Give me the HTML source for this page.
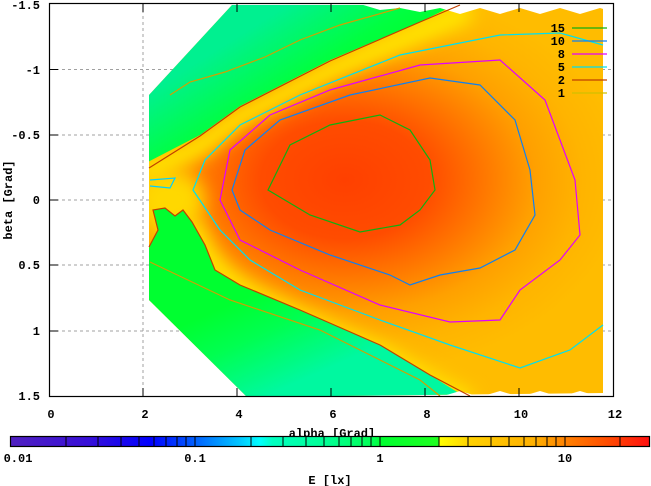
<!DOCTYPE html>
<html><head><style>
html,body{margin:0;padding:0;background:#fff;}
svg{display:block;}
text{font-family:"Liberation Mono",monospace;font-weight:bold;font-size:12px;fill:#000;}
</style></head><body>
<svg width="651" height="486" viewBox="0 0 651 486" xmlns="http://www.w3.org/2000/svg">
<defs>
<radialGradient id="core" cx="345" cy="180" r="280" gradientUnits="userSpaceOnUse" gradientTransform="translate(345 180) scale(1 0.7) translate(-345 -180)">
<stop offset="0" stop-color="#ff4000"/>
<stop offset="0.3" stop-color="#ff4c00"/>
<stop offset="0.5" stop-color="#ff7800"/>
<stop offset="0.68" stop-color="#ffa000"/>
<stop offset="0.85" stop-color="#ffb400"/>
<stop offset="1" stop-color="#ffbc00"/>
</radialGradient>
<linearGradient id="gtop" x1="200" y1="60" x2="250" y2="140" gradientUnits="userSpaceOnUse">
<stop offset="0" stop-color="#00f090"/><stop offset="0.7" stop-color="#00ff40"/><stop offset="1" stop-color="#00ff30"/>
</linearGradient>
<linearGradient id="gbot" x1="280" y1="390" x2="240" y2="300" gradientUnits="userSpaceOnUse">
<stop offset="0" stop-color="#00f8a0"/><stop offset="0.6" stop-color="#00ff50"/><stop offset="1" stop-color="#00ff30"/>
</linearGradient>
<linearGradient id="cb" x1="0" x2="1">
<stop offset="0" stop-color="#5020c0"/><stop offset="0.12" stop-color="#3810d8"/><stop offset="0.22" stop-color="#0000ff"/><stop offset="0.3" stop-color="#0070ff"/><stop offset="0.36" stop-color="#00c8ff"/><stop offset="0.39" stop-color="#00ffff"/><stop offset="0.41" stop-color="#00ffc0"/><stop offset="0.5" stop-color="#00ff90"/><stop offset="0.57" stop-color="#00ff50"/><stop offset="0.58" stop-color="#00ff30"/><stop offset="0.67" stop-color="#20ff20"/><stop offset="0.671" stop-color="#ffff00"/><stop offset="0.72" stop-color="#ffd000"/><stop offset="0.82" stop-color="#ffb000"/><stop offset="0.87" stop-color="#ff8000"/><stop offset="0.93" stop-color="#ff5000"/><stop offset="1" stop-color="#ff1010"/>
</linearGradient>
<filter id="blur" x="-50%" y="-50%" width="200%" height="200%"><feGaussianBlur stdDeviation="9"/></filter>
<clipPath id="dom"><path d="M149,95 L232,5 L603,5 L603,393 L247,397 L149,300 Z"/></clipPath>
</defs>
<!-- grid -->
<g stroke="#a0a0a0" stroke-dasharray="3,3" stroke-width="1">
<line x1="143" y1="4" x2="143" y2="396"/><line x1="237" y1="4" x2="237" y2="396"/><line x1="331" y1="4" x2="331" y2="396"/><line x1="425" y1="4" x2="425" y2="396"/><line x1="519" y1="4" x2="519" y2="396"/>
<line x1="50" y1="69.5" x2="613" y2="69.5"/><line x1="50" y1="135" x2="613" y2="135"/><line x1="50" y1="200" x2="613" y2="200"/><line x1="50" y1="265" x2="613" y2="265"/><line x1="50" y1="331" x2="613" y2="331"/>
</g>
<g clip-path="url(#dom)">
<rect x="140" y="0" width="470" height="400" fill="url(#core)"/>
<!-- soft yellow bands -->
<g filter="url(#blur)" fill="none" stroke="#ffe800" stroke-width="22">
<path d="M140,175 L200,146 L240,117 L330,71 L420,32 L470,10"/>
<path d="M160,220 L195,232 L205,255 L225,278 L250,295 L300,320 L380,355 L430,385 L470,405"/>
</g>
<ellipse cx="170" cy="200" rx="35" ry="30" fill="#ffd800" filter="url(#blur)"/>
<!-- green wedges -->
<path d="M140,166 L200,135 L240,106 L330,60 L420,22 L465,0 L140,0 Z" fill="url(#gtop)"/>
<path d="M149,248 L158,230 L153,210 L165,208 L175,216 L183,210 L192,222 L205,245 L215,270 L240,285 L300,310 L380,345 L430,375 L470,400 L140,400 Z" fill="url(#gbot)"/>
</g>
<!-- jagged white teeth on top/bottom -->
<g fill="#fff">
<path d="M360,4 L613,4 L613,12 L600,8 L580,14 L560,8 L540,14 L520,8 L500,14 L480,8 L460,14 L440,8 L420,12 L400,8 L380,10 Z"/>
<path d="M440,397 L460,391 L480,397 L500,391 L520,397 L540,391 L560,397 L580,391 L600,397 Z"/>
</g>
<!-- contours -->
<g fill="none" stroke-width="1.2">
<path d="M149,168 L200,136 L240,107 L330,61 L420,22 L460,5" stroke="#c04000"/>
<path d="M149,247 L158,230 L153,210 L165,208 L175,216 L183,210 L192,222 L205,245 L215,270 L240,285 L300,310 L380,345 L430,375 L470,396" stroke="#c04000"/>
<path d="M170,95 L190,82 L225,72 L265,57 L300,40 L340,25 L400,8" stroke="#d0a000"/>
<path d="M150,262 L230,300 L320,330 L420,380 L440,396" stroke="#d0a000"/>
<path d="M150,180 L175,178 L170,188 L150,186" stroke="#00d0ff"/>
<path d="M603,45 L560,33 L500,35 L400,55 L300,95 L240,125 L205,160 L193,190 L220,230 L250,260 L300,290 L380,320 L450,345 L520,368 L570,350 L603,325" stroke="#00e0f0"/>
<path d="M220,200 L230,150 L270,115 L330,90 L420,65 L500,60 L545,100 L575,180 L580,235 L560,260 L520,290 L500,320 L450,322 L380,305 L300,270 L240,240 Z" stroke="#e000ff"/>
<path d="M232,190 L245,150 L280,120 L350,95 L430,78 L480,85 L515,120 L530,170 L535,215 L515,250 L480,268 L440,275 L410,285 L390,275 L330,255 L270,230 L240,210 Z" stroke="#1080f0"/>
<path d="M268,190 L290,145 L330,125 L380,115 L410,130 L430,160 L435,190 L420,210 L400,225 L360,232 L310,215 Z" stroke="#10b010"/>
</g>
<!-- frame -->
<rect x="49.5" y="3.5" width="564" height="393" fill="none" stroke="#000" stroke-width="1.2"/>
<g stroke="#000">
<line x1="143" y1="4" x2="143" y2="12"/><line x1="237" y1="4" x2="237" y2="12"/><line x1="331" y1="4" x2="331" y2="12"/><line x1="425" y1="4" x2="425" y2="12"/><line x1="519" y1="4" x2="519" y2="12"/>
<line x1="143" y1="396" x2="143" y2="388"/><line x1="237" y1="396" x2="237" y2="388"/><line x1="331" y1="396" x2="331" y2="388"/><line x1="425" y1="396" x2="425" y2="388"/><line x1="519" y1="396" x2="519" y2="388"/>
<line x1="50" y1="69.5" x2="58" y2="69.5"/><line x1="50" y1="135" x2="58" y2="135"/><line x1="50" y1="200" x2="58" y2="200"/><line x1="50" y1="265" x2="58" y2="265"/><line x1="50" y1="331" x2="58" y2="331"/>
</g>
<!-- legend -->
<g text-anchor="end">
<text x="565" y="32">15</text><text x="565" y="45">10</text><text x="565" y="58">8</text><text x="565" y="71">5</text><text x="565" y="84">2</text><text x="565" y="97">1</text>
</g>
<g stroke-width="1.2">
<line x1="572" y1="28" x2="607" y2="28" stroke="#10b010"/>
<line x1="572" y1="41" x2="607" y2="41" stroke="#1080f0"/>
<line x1="572" y1="54" x2="607" y2="54" stroke="#e000ff"/>
<line x1="572" y1="67" x2="607" y2="67" stroke="#00e0f0"/>
<line x1="572" y1="80" x2="607" y2="80" stroke="#c04000"/>
<line x1="572" y1="93" x2="607" y2="93" stroke="#d0c000"/>
</g>
<!-- axis labels -->
<g text-anchor="end">
<text x="40" y="9">-1.5</text><text x="40" y="74">-1</text><text x="40" y="139">-0.5</text><text x="40" y="204">0</text><text x="40" y="269">0.5</text><text x="40" y="335">1</text><text x="40" y="400">1.5</text>
</g>
<g text-anchor="middle">
<text x="51" y="418">0</text><text x="145" y="418">2</text><text x="239" y="418">4</text><text x="333" y="418">6</text><text x="427" y="418">8</text><text x="521" y="418">10</text><text x="615" y="418">12</text>
<text x="332" y="437">alpha [Grad]</text>
<text x="12" y="200" transform="rotate(-90 12 200)">beta [Grad]</text>
</g>
<!-- colorbar -->
<rect x="10.5" y="436.5" width="639" height="10" fill="url(#cb)" stroke="#000" stroke-width="1.2"/>
<g stroke="#000">
<line x1="66" y1="437" x2="66" y2="446"/><line x1="98" y1="437" x2="98" y2="446"/><line x1="121" y1="437" x2="121" y2="446"/><line x1="139" y1="437" x2="139" y2="446"/><line x1="154" y1="437" x2="154" y2="446"/><line x1="166" y1="437" x2="166" y2="446"/><line x1="177" y1="437" x2="177" y2="446"/><line x1="186" y1="437" x2="186" y2="446"/><line x1="195" y1="437" x2="195" y2="446"/>
<line x1="251" y1="437" x2="251" y2="446"/><line x1="283" y1="437" x2="283" y2="446"/><line x1="306" y1="437" x2="306" y2="446"/><line x1="324" y1="437" x2="324" y2="446"/><line x1="339" y1="437" x2="339" y2="446"/><line x1="351" y1="437" x2="351" y2="446"/><line x1="362" y1="437" x2="362" y2="446"/><line x1="371" y1="437" x2="371" y2="446"/><line x1="380" y1="437" x2="380" y2="446"/>
<line x1="439" y1="437" x2="439" y2="446"/><line x1="468" y1="437" x2="468" y2="446"/><line x1="491" y1="437" x2="491" y2="446"/><line x1="509" y1="437" x2="509" y2="446"/><line x1="524" y1="437" x2="524" y2="446"/><line x1="536" y1="437" x2="536" y2="446"/><line x1="547" y1="437" x2="547" y2="446"/><line x1="556" y1="437" x2="556" y2="446"/><line x1="565" y1="437" x2="565" y2="446"/><line x1="620" y1="437" x2="620" y2="446"/>
</g>
<g text-anchor="middle">
<text x="18" y="462">0.01</text><text x="195" y="462">0.1</text><text x="380" y="462">1</text><text x="565" y="462">10</text>
<text x="330" y="484">E [lx]</text>
</g>
</svg>
</body></html>
